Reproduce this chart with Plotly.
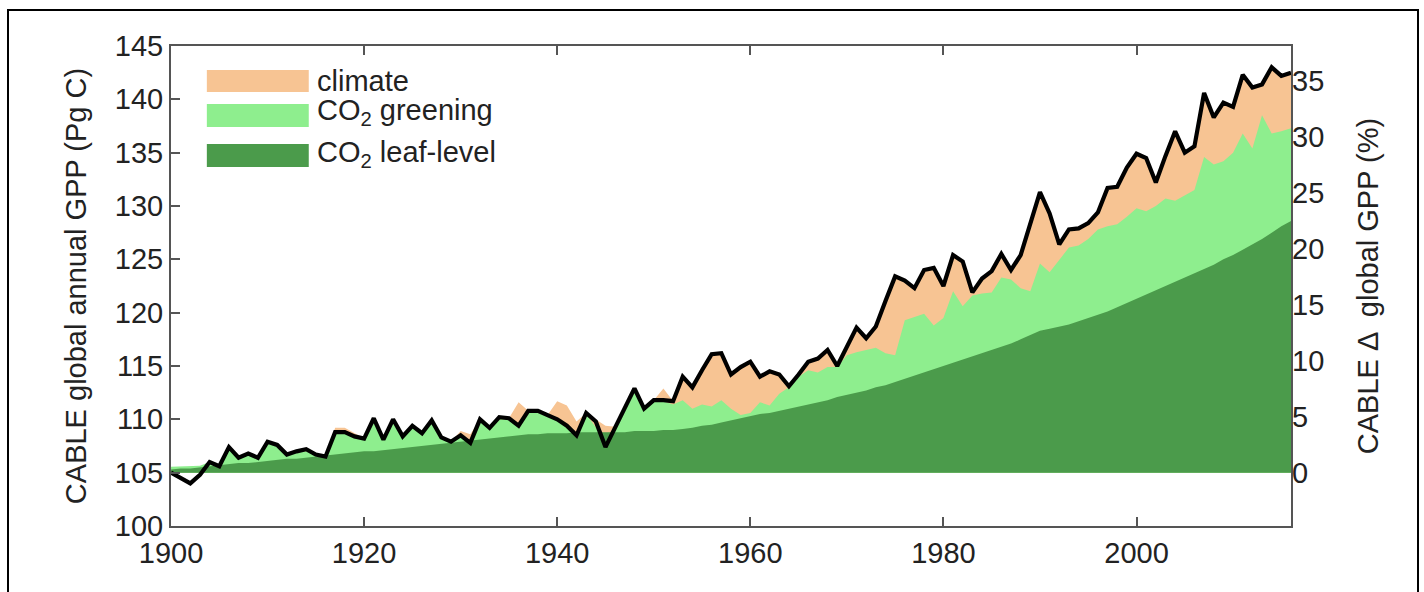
import plotly.graph_objects as go

years = list(range(1900, 2017))

# black line: CABLE global annual GPP (Pg C)
total = [
    105.0, 104.5, 104.0, 104.8, 106.0, 105.6, 107.4, 106.4, 106.8, 106.4,
    107.9, 107.6, 106.7, 107.0, 107.2, 106.7, 106.5, 108.8, 108.8, 108.4,
    108.2, 110.1, 108.1, 110.0, 108.4, 109.4, 108.7, 109.9, 108.3, 107.9,
    108.5, 107.8, 110.0, 109.2, 110.2, 110.1, 109.4, 110.8, 110.8, 110.4,
    110.0, 109.4, 108.5, 110.6, 109.8, 107.4, 109.3, 111.1, 112.9, 111.0,
    111.8, 111.8, 111.7, 114.0, 113.0, 114.6, 116.1, 116.2, 114.2, 114.9,
    115.4, 114.0, 114.5, 114.2, 113.1, 114.2, 115.4, 115.7, 116.5, 115.0,
    116.8, 118.6, 117.6, 118.7, 121.1, 123.4, 123.0, 122.3, 124.0, 124.2,
    122.5, 125.4, 124.8, 121.9, 123.2, 123.9, 125.5, 124.0, 125.4, 128.2,
    131.3, 129.3, 126.4, 127.8, 127.9, 128.4, 129.4, 131.7, 131.8, 133.6,
    134.9, 134.5, 132.2, 134.7, 137.0, 135.0, 135.6, 140.6, 138.3, 139.7,
    139.3, 142.3, 141.1, 141.4, 143.0, 142.2, 142.5,
]

# top of the orange "climate" band
climate_top = [
    105.0, 105.3, 105.3, 105.3, 106.0, 105.6, 107.4, 106.4, 106.8, 106.4,
    107.9, 107.6, 106.7, 107.0, 107.2, 106.7, 106.5, 109.2, 109.2, 108.7,
    108.2, 110.1, 108.1, 110.0, 108.4, 109.4, 108.7, 109.9, 108.3, 107.9,
    108.9, 108.6, 110.0, 109.2, 110.2, 110.1, 111.6, 110.8, 110.8, 110.4,
    111.7, 111.3, 109.8, 110.6, 110.0, 109.4, 109.3, 111.1, 112.9, 111.0,
    111.8, 112.9, 111.7, 114.0, 113.0, 114.6, 116.1, 116.2, 114.2, 114.9,
    115.4, 114.0, 114.5, 114.2, 113.1, 114.2, 115.4, 115.7, 116.5, 115.0,
    116.8, 118.6, 117.6, 118.7, 121.1, 123.4, 123.0, 122.3, 124.0, 124.2,
    122.5, 125.4, 124.8, 121.9, 123.2, 123.9, 125.5, 124.0, 125.4, 128.2,
    131.3, 129.3, 126.4, 127.8, 127.9, 128.4, 129.4, 131.7, 131.8, 133.6,
    134.9, 134.5, 132.2, 134.7, 137.0, 135.0, 135.6, 140.6, 138.3, 139.7,
    139.3, 142.3, 141.1, 141.4, 143.0, 142.2, 142.5,
]

# top of the light green "CO2 greening" band
greening_top = [
    105.55, 105.6, 105.6, 105.65, 106.0, 105.75, 107.3, 106.4, 106.7, 106.4,
    107.8, 107.5, 106.7, 106.9, 107.0, 106.7, 106.6, 108.7, 108.7, 108.3,
    108.2, 110.0, 108.1, 109.9, 108.4, 109.3, 108.7, 109.8, 108.3, 107.9,
    108.3, 107.8, 109.8, 109.2, 110.0, 110.0, 109.4, 110.7, 110.7, 110.3,
    109.9, 109.3, 108.5, 110.5, 109.2, 108.0, 109.3, 111.0, 112.8, 111.0,
    111.7, 111.7, 111.4, 111.8, 111.0, 111.4, 111.2, 111.8, 111.0, 110.4,
    110.6, 111.6, 111.3, 112.4, 113.0, 114.0, 114.6, 114.4, 114.9, 114.9,
    116.0, 116.3, 116.5, 116.7, 116.2, 116.0, 119.3, 119.6, 119.9, 118.8,
    119.5, 122.0, 120.6, 121.6, 121.8, 121.9, 123.3, 123.1, 122.3, 122.0,
    124.6, 123.8, 125.0, 126.1, 126.3, 126.9, 127.8, 128.1, 128.3, 129.0,
    129.8, 129.5, 130.0, 130.7, 130.5, 131.0, 131.5, 134.6, 133.9, 134.2,
    135.0, 136.8, 135.4, 138.5, 136.8, 137.0, 137.3,
]

# top of the dark green "CO2 leaf-level" band
leaf_top = [
    105.3, 105.4, 105.4, 105.5, 105.6, 105.7, 105.8, 105.9, 105.9, 106.0,
    106.1, 106.2, 106.3, 106.3, 106.4, 106.5, 106.6, 106.7, 106.8, 106.9,
    107.0, 107.0, 107.1, 107.2, 107.3, 107.4, 107.5, 107.6, 107.7, 107.8,
    107.9, 108.0, 108.1, 108.2, 108.3, 108.4, 108.5, 108.6, 108.6, 108.7,
    108.7, 108.7, 108.8, 108.8, 108.8, 108.8, 108.8, 108.8, 108.9, 108.9,
    108.9, 109.0, 109.0, 109.1, 109.2, 109.4, 109.5, 109.7, 109.9, 110.1,
    110.3, 110.5, 110.6, 110.8, 111.0, 111.2, 111.4, 111.6, 111.8, 112.1,
    112.3, 112.5, 112.7, 113.0, 113.2, 113.5, 113.8, 114.1, 114.4, 114.7,
    115.0, 115.3, 115.6, 115.9, 116.2, 116.5, 116.8, 117.1, 117.5, 117.9,
    118.3, 118.5, 118.7, 118.9, 119.2, 119.5, 119.8, 120.1, 120.5, 120.9,
    121.3, 121.7, 122.1, 122.5, 122.9, 123.3, 123.7, 124.1, 124.5, 125.0,
    125.4, 125.9, 126.4, 126.9, 127.5, 128.1, 128.6,
]

BASE_GPP = 105.0  # GPP at which the bands start and the % axis is 0
base = [BASE_GPP] * len(years)

x_ticks = [1900, 1920, 1940, 1960, 1980, 2000]
y_ticks = [100, 105, 110, 115, 120, 125, 130, 135, 140, 145]
pct_ticks = [0, 5, 10, 15, 20, 25, 30, 35]

legend_labels = ["climate", "CO<sub>2</sub> greening", "CO<sub>2</sub> leaf-level"]

C_ORANGE = "#F7C493"
C_LIGHT = "#8EEE8E"
C_DARK = "#4B9B4B"
FONT = "Liberation Sans, Arial, sans-serif"
FS = 29

fig = go.Figure()

for top, col, name in [(climate_top, C_ORANGE, legend_labels[0]),
                       (greening_top, C_LIGHT, legend_labels[1]),
                       (leaf_top, C_DARK, legend_labels[2])]:
    fig.add_trace(go.Scatter(x=years, y=base, mode="lines", line=dict(width=0),
                             showlegend=False, hoverinfo="skip"))
    fig.add_trace(go.Scatter(x=years, y=top, mode="lines", line=dict(width=0),
                             fill="tonexty", fillcolor=col, name=name,
                             showlegend=False))

fig.add_trace(go.Scatter(x=years, y=total, mode="lines",
                         line=dict(color="black", width=4.2), showlegend=False,
                         name="total"))

# invisible trace to attach the right-hand percentage axis
fig.add_trace(go.Scatter(x=[years[0]], y=[0], yaxis="y2", mode="markers",
                         marker=dict(opacity=0), showlegend=False, hoverinfo="skip"))

y_lo, y_hi = 100, 145
pct_per_unit = 100.0 / BASE_GPP

fig.update_layout(
    width=1424, height=592,
    margin=dict(l=171, r=133, t=46, b=66),
    paper_bgcolor="white", plot_bgcolor="white",
    font=dict(family=FONT, size=FS, color="#222"),
    xaxis=dict(range=[1900, 2016], tickvals=x_ticks, ticks="inside", ticklen=9,
               tickwidth=2, tickcolor="#555", showline=True, linecolor="#555",
               linewidth=2, mirror="ticks", showgrid=False, zeroline=False,
               tickfont=dict(size=FS)),
    yaxis=dict(range=[y_lo, y_hi], tickvals=y_ticks, ticks="inside", ticklen=9,
               tickwidth=2, tickcolor="#555", showline=True, linecolor="#555",
               linewidth=2, mirror=True, showgrid=False, zeroline=False,
               tickfont=dict(size=FS),
               title=dict(text="CABLE global annual GPP (Pg C)", standoff=20,
                          font=dict(size=FS))),
    yaxis2=dict(overlaying="y", side="right",
                range=[(y_lo - BASE_GPP) * pct_per_unit, (y_hi - BASE_GPP) * pct_per_unit],
                tickvals=pct_ticks, ticks="", showgrid=False, zeroline=False,
                showline=False, tickfont=dict(size=FS),
                title=dict(text="CABLE \u0394  global GPP (%)", standoff=34,
                           font=dict(size=FS))),
)

# legend drawn as patches + text inside the plot
patches = [(0.904, 0.950, C_ORANGE), (0.831, 0.879, C_LIGHT), (0.748, 0.796, C_DARK)]
text_y = [0.927, 0.862, 0.776]
for (y0, y1, col), ty, lab in zip(patches, text_y, legend_labels):
    fig.add_shape(type="rect", xref="paper", yref="paper", x0=0.032, x1=0.123,
                  y0=y0, y1=y1, fillcolor=col, line=dict(width=0))
    fig.add_annotation(xref="paper", yref="paper", x=0.129, y=ty, text=lab,
                       showarrow=False, xanchor="left", yanchor="middle",
                       font=dict(size=FS, color="#222"))

# outer black frame of the figure
fig.add_shape(type="rect", xref="paper", yref="paper",
              x0=(8 - 171) / 1120, x1=(1418 - 171) / 1120,
              y0=(526 - 600) / 480, y1=(526 - 10) / 480,
              line=dict(color="black", width=2), fillcolor="rgba(0,0,0,0)")

fig.write_html("out.html")
